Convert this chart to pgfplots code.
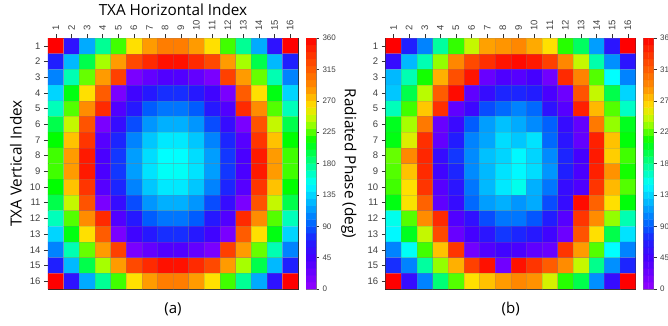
\documentclass[border=0pt]{standalone}
\usepackage{fontspec}
\setmainfont{Liberation Sans}
\newfontfamily\labelfont{Open Sans}
\usepackage{pgfplots}
\pgfplotsset{compat=1.18}

\pgfplotsset{
  colormap={phase}{
    rgb(0pt)=(0.58,0,1); rgb(45pt)=(0.27,0,1); rgb(70pt)=(0.12,0.12,1);
    rgb(90pt)=(0,0.36,1); rgb(120pt)=(0,0.67,1); rgb(150pt)=(0,1,1);
    rgb(180pt)=(0,1,0.55); rgb(212pt)=(0,1,0); rgb(240pt)=(0.7,1,0);
    rgb(262pt)=(1,0.88,0); rgb(290pt)=(1,0.55,0); rgb(330pt)=(1,0.25,0);
    rgb(360pt)=(1,0,0)
  },
  phasemap/.style={
    anchor=south west,
    scale only axis,
    width=250pt, height=251pt,
    y dir=reverse,
    enlargelimits=false,
    xmin=0.5, xmax=16.5, ymin=0.5, ymax=16.5,
    xtick={1,...,16}, ytick={1,...,16},
    xtick pos=upper, ytick pos=left,
    xticklabel pos=upper,
    tick align=outside,
    major tick length=4pt,
    tick style={black!80, line width=0.5pt},
    axis line style={black!85, line width=0.7pt},
    tick label style={font=\fontsize{9.5}{10}\selectfont, text=black!75},
    xticklabel style={rotate=90, anchor=west},
    /pgf/number format/assume math mode=true,
    point meta min=0, point meta max=360,
    colormap name=phase,
  },
  cells/.style={matrix plot*, mesh/cols=16, point meta=explicit, draw=gray, draw opacity=0.25, line width=0.3pt},
  phasebar/.style={
    anchor=south west,
    scale only axis,
    width=10pt, height=251pt,
    enlargelimits=false,
    xmin=-0.5, xmax=1.5, ymin=0, ymax=360,
    xtick=\empty,
    ytick={0,45,...,360},
    ytick pos=right, yticklabel pos=right,
    tick align=outside,
    major tick length=3pt,
    axis line style={black!50, line width=0.5pt},
    tick style={black!80, line width=0.4pt},
    tick label style={font=\fontsize{8}{9}\selectfont, text=black!75},
    /pgf/number format/assume math mode=true,
    point meta min=0, point meta max=360,
    colormap name=phase,
  },
  barcells/.style={matrix plot*, mesh/cols=2, point meta=explicit},
}

\pgfplotstableread{
x y c
0 5 5
1 5 5
0 15 15
1 15 15
0 25 25
1 25 25
0 35 35
1 35 35
0 45 45
1 45 45
0 55 55
1 55 55
0 65 65
1 65 65
0 75 75
1 75 75
0 85 85
1 85 85
0 95 95
1 95 95
0 105 105
1 105 105
0 115 115
1 115 115
0 125 125
1 125 125
0 135 135
1 135 135
0 145 145
1 145 145
0 155 155
1 155 155
0 165 165
1 165 165
0 175 175
1 175 175
0 185 185
1 185 185
0 195 195
1 195 195
0 205 205
1 205 205
0 215 215
1 215 215
0 225 225
1 225 225
0 235 235
1 235 235
0 245 245
1 245 245
0 255 255
1 255 255
0 265 265
1 265 265
0 275 275
1 275 275
0 285 285
1 285 285
0 295 295
1 295 295
0 305 305
1 305 305
0 315 315
1 315 315
0 325 325
1 325 325
0 335 335
1 335 335
0 345 345
1 345 345
0 355 355
1 355 355
}\barsteps

\begin{document}
\begin{tikzpicture}[x=1pt,y=1pt]
\useasboundingbox (0,0) rectangle (668,325);

\begin{axis}[phasemap, at={(48pt,36pt)},
  title={\labelfont\fontsize{15.3}{18}\selectfont TXA Horizontal Index},
  title style={at={(axis description cs:0.5,1.087)}, anchor=center},
  ylabel={\labelfont\fontsize{15.3}{18}\selectfont TXA Vertical Index},
  ylabel style={at={(axis description cs:-0.128,0.5)}, anchor=center},
  xlabel={\labelfont\fontsize{15}{17}\selectfont (a)},
  xlabel style={at={(axis description cs:0.5,-0.08)}, anchor=center},
]
\addplot[cells] coordinates {
(1,1)[360] (2,1)[60] (3,1)[120] (4,1)[178] (5,1)[222] (6,1)[262] (7,1)[285] (8,1)[298] (9,1)[298] (10,1)[285] (11,1)[262] (12,1)[222] (13,1)[178] (14,1)[120] (15,1)[60] (16,1)[360]
(1,2)[70] (2,2)[125] (3,2)[195] (4,2)[238] (5,2)[285] (6,2)[325] (7,2)[340] (8,2)[352] (9,2)[352] (10,2)[340] (11,2)[325] (12,2)[285] (13,2)[238] (14,2)[195] (15,2)[125] (16,2)[70]
(1,3)[105] (2,3)[170] (3,3)[228] (4,3)[285] (5,3)[330] (6,3)[15] (7,3)[28] (8,3)[38] (9,3)[38] (10,3)[28] (11,3)[15] (12,3)[330] (13,3)[285] (14,3)[228] (15,3)[170] (16,3)[105]
(1,4)[135] (2,4)[208] (3,4)[262] (4,4)[315] (5,4)[15] (6,4)[48] (7,4)[65] (8,4)[75] (9,4)[75] (10,4)[65] (11,4)[48] (12,4)[15] (13,4)[315] (14,4)[262] (15,4)[208] (16,4)[135]
(1,5)[168] (2,5)[225] (3,5)[290] (4,5)[340] (5,5)[38] (6,5)[65] (7,5)[90] (8,5)[100] (9,5)[100] (10,5)[90] (11,5)[65] (12,5)[38] (13,5)[340] (14,5)[290] (15,5)[225] (16,5)[168]
(1,6)[195] (2,6)[245] (3,6)[320] (4,6)[15] (5,6)[55] (6,6)[85] (7,6)[112] (8,6)[122] (9,6)[122] (10,6)[112] (11,6)[85] (12,6)[55] (13,6)[15] (14,6)[320] (15,6)[245] (16,6)[195]
(1,7)[212] (2,7)[272] (3,7)[335] (4,7)[35] (5,7)[72] (6,7)[105] (7,7)[130] (8,7)[142] (9,7)[142] (10,7)[130] (11,7)[105] (12,7)[72] (13,7)[35] (14,7)[335] (15,7)[272] (16,7)[212]
(1,8)[222] (2,8)[285] (3,8)[348] (4,8)[42] (5,8)[78] (6,8)[115] (7,8)[138] (8,8)[150] (9,8)[150] (10,8)[138] (11,8)[115] (12,8)[78] (13,8)[42] (14,8)[348] (15,8)[285] (16,8)[222]
(1,9)[222] (2,9)[285] (3,9)[348] (4,9)[42] (5,9)[78] (6,9)[115] (7,9)[140] (8,9)[152] (9,9)[152] (10,9)[140] (11,9)[115] (12,9)[78] (13,9)[42] (14,9)[348] (15,9)[285] (16,9)[222]
(1,10)[212] (2,10)[272] (3,10)[335] (4,10)[35] (5,10)[72] (6,10)[105] (7,10)[130] (8,10)[142] (9,10)[142] (10,10)[130] (11,10)[105] (12,10)[72] (13,10)[35] (14,10)[335] (15,10)[272] (16,10)[212]
(1,11)[195] (2,11)[245] (3,11)[320] (4,11)[15] (5,11)[55] (6,11)[85] (7,11)[112] (8,11)[122] (9,11)[122] (10,11)[112] (11,11)[85] (12,11)[55] (13,11)[15] (14,11)[320] (15,11)[245] (16,11)[195]
(1,12)[168] (2,12)[225] (3,12)[290] (4,12)[340] (5,12)[38] (6,12)[65] (7,12)[90] (8,12)[100] (9,12)[100] (10,12)[90] (11,12)[65] (12,12)[38] (13,12)[340] (14,12)[290] (15,12)[225] (16,12)[168]
(1,13)[135] (2,13)[208] (3,13)[262] (4,13)[315] (5,13)[15] (6,13)[48] (7,13)[65] (8,13)[75] (9,13)[75] (10,13)[65] (11,13)[48] (12,13)[15] (13,13)[315] (14,13)[262] (15,13)[208] (16,13)[135]
(1,14)[105] (2,14)[170] (3,14)[228] (4,14)[285] (5,14)[330] (6,14)[15] (7,14)[28] (8,14)[38] (9,14)[38] (10,14)[28] (11,14)[15] (12,14)[330] (13,14)[285] (14,14)[228] (15,14)[170] (16,14)[105]
(1,15)[70] (2,15)[125] (3,15)[195] (4,15)[238] (5,15)[285] (6,15)[325] (7,15)[340] (8,15)[352] (9,15)[352] (10,15)[340] (11,15)[325] (12,15)[285] (13,15)[238] (14,15)[195] (15,15)[125] (16,15)[70]
(1,16)[360] (2,16)[60] (3,16)[120] (4,16)[178] (5,16)[222] (6,16)[262] (7,16)[285] (8,16)[298] (9,16)[298] (10,16)[285] (11,16)[262] (12,16)[222] (13,16)[178] (14,16)[120] (15,16)[60] (16,16)[360]
};
\end{axis}

\begin{axis}[phasebar, at={(306pt,36pt)}]
\addplot[barcells] table[x=x, y=y, meta=c] {\barsteps};
\end{axis}

\begin{axis}[phasemap, at={(385.7pt,36pt)},
  ylabel={\labelfont\fontsize{15.3}{18}\selectfont Radiated Phase (deg)},
  ylabel style={at={(axis description cs:-0.147,0.5)}, anchor=center, rotate=180},
  xlabel={\labelfont\fontsize{15}{17}\selectfont (b)},
  xlabel style={at={(axis description cs:0.5,-0.08)}, anchor=center},
]
\addplot[cells] coordinates {
(1,1)[360] (2,1)[70] (3,1)[105] (4,1)[175] (5,1)[220] (6,1)[245] (7,1)[283] (8,1)[287] (9,1)[293] (10,1)[280] (11,1)[262] (12,1)[218] (13,1)[190] (14,1)[115] (15,1)[62] (16,1)[360]
(1,2)[55] (2,2)[125] (3,2)[170] (4,2)[235] (5,2)[293] (6,2)[325] (7,2)[338] (8,2)[350] (9,2)[355] (10,2)[348] (11,2)[330] (12,2)[293] (13,2)[245] (14,2)[172] (15,2)[110] (16,2)[62]
(1,3)[125] (2,3)[170] (3,3)[215] (4,3)[278] (5,3)[322] (6,3)[350] (7,3)[25] (8,3)[40] (9,3)[35] (10,3)[45] (11,3)[20] (12,3)[340] (13,3)[295] (14,3)[225] (15,3)[150] (16,3)[105]
(1,4)[130] (2,4)[195] (3,4)[242] (4,4)[315] (5,4)[355] (6,4)[30] (7,4)[55] (8,4)[72] (9,4)[72] (10,4)[68] (11,4)[42] (12,4)[22] (13,4)[320] (14,4)[245] (15,4)[195] (16,4)[135]
(1,5)[168] (2,5)[222] (3,5)[270] (4,5)[338] (5,5)[30] (6,5)[50] (7,5)[85] (8,5)[95] (9,5)[105] (10,5)[95] (11,5)[60] (12,5)[35] (13,5)[345] (14,5)[275] (15,5)[225] (16,5)[165]
(1,6)[205] (2,6)[238] (3,6)[300] (4,6)[25] (5,6)[52] (6,6)[90] (7,6)[115] (8,6)[128] (9,6)[120] (10,6)[108] (11,6)[92] (12,6)[55] (13,6)[28] (14,6)[300] (15,6)[235] (16,6)[205]
(1,7)[208] (2,7)[252] (3,7)[338] (4,7)[28] (5,7)[68] (6,7)[105] (7,7)[118] (8,7)[138] (9,7)[130] (10,7)[140] (11,7)[95] (12,7)[62] (13,7)[28] (14,7)[345] (15,7)[272] (16,7)[210]
(1,8)[228] (2,8)[292] (3,8)[342] (4,8)[55] (5,8)[78] (6,8)[108] (7,8)[128] (8,8)[135] (9,8)[148] (10,8)[135] (11,8)[108] (12,8)[72] (13,8)[45] (14,8)[348] (15,8)[268] (16,8)[222]
(1,9)[225] (2,9)[272] (3,9)[340] (4,9)[48] (5,9)[72] (6,9)[108] (7,9)[125] (8,9)[140] (9,9)[148] (10,9)[138] (11,9)[112] (12,9)[70] (13,9)[42] (14,9)[345] (15,9)[288] (16,9)[215]
(1,10)[222] (2,10)[262] (3,10)[335] (4,10)[35] (5,10)[62] (6,10)[100] (7,10)[125] (8,10)[142] (9,10)[155] (10,10)[122] (11,10)[100] (12,10)[55] (13,10)[40] (14,10)[335] (15,10)[275] (16,10)[225]
(1,11)[208] (2,11)[260] (3,11)[312] (4,11)[30] (5,11)[55] (6,11)[95] (7,11)[115] (8,11)[122] (9,11)[112] (10,11)[120] (11,11)[85] (12,11)[55] (13,11)[355] (14,11)[312] (15,11)[262] (16,11)[210]
(1,12)[155] (2,12)[225] (3,12)[290] (4,12)[340] (5,12)[38] (6,12)[58] (7,12)[85] (8,12)[100] (9,12)[100] (10,12)[88] (11,12)[68] (12,12)[35] (13,12)[335] (14,12)[290] (15,12)[235] (16,12)[170]
(1,13)[148] (2,13)[205] (3,13)[245] (4,13)[325] (5,13)[25] (6,13)[45] (7,13)[62] (8,13)[78] (9,13)[72] (10,13)[65] (11,13)[48] (12,13)[22] (13,13)[320] (14,13)[262] (15,13)[195] (16,13)[140]
(1,14)[105] (2,14)[152] (3,14)[222] (4,14)[272] (5,14)[335] (6,14)[20] (7,14)[38] (8,14)[48] (9,14)[42] (10,14)[30] (11,14)[25] (12,14)[335] (13,14)[285] (14,14)[225] (15,14)[150] (16,14)[105]
(1,15)[75] (2,15)[105] (3,15)[175] (4,15)[235] (5,15)[278] (6,15)[330] (7,15)[352] (8,15)[20] (9,15)[352] (10,15)[335] (11,15)[315] (12,15)[290] (13,15)[245] (14,15)[180] (15,15)[110] (16,15)[72]
(1,16)[360] (2,16)[55] (3,16)[105] (4,16)[185] (5,16)[225] (6,16)[262] (7,16)[272] (8,16)[285] (9,16)[293] (10,16)[288] (11,16)[250] (12,16)[218] (13,16)[195] (14,16)[110] (15,16)[55] (16,16)[360]
};
\end{axis}

\begin{axis}[phasebar, at={(643.7pt,36pt)}]
\addplot[barcells] table[x=x, y=y, meta=c] {\barsteps};
\end{axis}
\end{tikzpicture}
\end{document}
